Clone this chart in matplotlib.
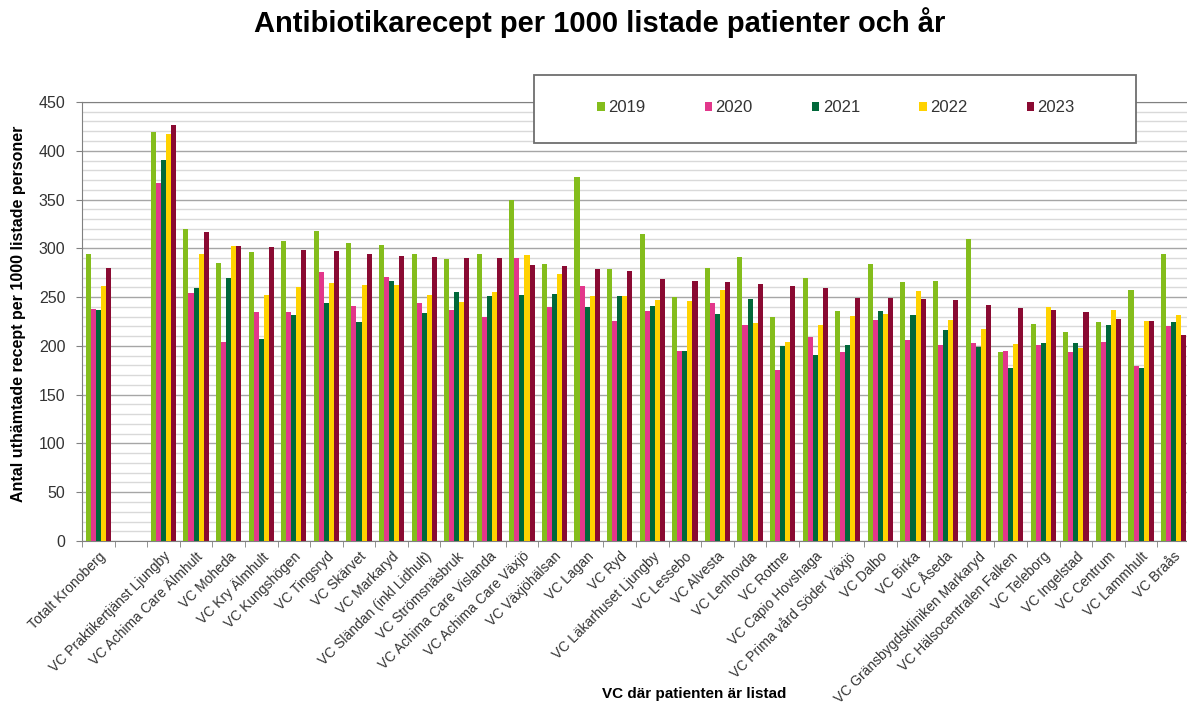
import matplotlib.pyplot as plt
import numpy as np
from matplotlib.patches import Rectangle

plt.rcParams['font.family'] = ['Liberation Sans', 'DejaVu Sans']

# Categories (empty string = gap after the county total)
units = ['Totalt Kronoberg', '',
         'VC Praktikertjänst Ljungby', 'VC Achima Care Älmhult', 'VC Moheda',
         'VC Kry Älmhult', 'VC Kungshögen', 'VC Tingsryd', 'VC Skärvet',
         'VC Markaryd', 'VC Sländan (inkl Lidhult)', 'VC Strömsnäsbruk',
         'VC Achima Care Vislanda', 'VC Achima Care Växjö', 'VC Växjöhälsan',
         'VC Lagan', 'VC Ryd', 'VC Läkarhuset Ljungby', 'VC Lessebo',
         'VC Alvesta', 'VC Lenhovda', 'VC Rottne', 'VC Capio Hovshaga',
         'VC Prima vård Söder Växjö', 'VC Dalbo', 'VC Birka', 'VC Åseda',
         'VC Gränsbygdskliniken Markaryd', 'VC Hälsocentralen Falken',
         'VC Teleborg', 'VC Ingelstad', 'VC Centrum', 'VC Lammhult', 'VC Braås']

years = ['2019', '2020', '2021', '2022', '2023']

v2019 = [294, np.nan, 419, 320, 285, 296, 307, 318, 305, 303, 294, 289, 294, 350,
         284, 373, 279, 315, 250, 280, 291, 230, 270, 236, 284, 265, 267, 310,
         194, 222, 214, 224, 257, 294]
v2020 = [238, np.nan, 367, 254, 204, 235, 235, 276, 241, 271, 244, 237, 230, 290,
         240, 261, 226, 236, 195, 244, 221, 175, 209, 194, 227, 206, 201, 203,
         195, 201, 194, 204, 179, 220]
v2021 = [237, np.nan, 391, 259, 270, 207, 232, 244, 224, 266, 234, 255, 251, 252,
         253, 240, 251, 241, 195, 233, 248, 200, 191, 201, 236, 232, 216, 199,
         177, 203, 203, 221, 177, 224]
v2022 = [261, np.nan, 417, 294, 302, 252, 260, 264, 262, 262, 252, 245, 255, 293,
         274, 251, 251, 247, 246, 257, 223, 204, 221, 231, 233, 256, 227, 217,
         202, 240, 198, 237, 225, 232]
v2023 = [280, np.nan, 426, 317, 302, 301, 298, 297, 294, 292, 291, 290, 290, 283,
         282, 279, 277, 269, 267, 265, 263, 261, 259, 249, 249, 248, 247, 242,
         239, 237, 235, 228, 225, 211]

colors = ['#84BD1C', '#E2378B', '#00683A', '#FFD200', '#8A0A32']
series = [v2019, v2020, v2021, v2022, v2023]

fig = plt.figure(figsize=(11.87, 7.13), dpi=100)
ax = fig.add_axes([0.0691, 0.2412, 0.9334, 0.6158])

x = np.arange(len(units))
w = 0.155
for i, (vals, c, yr) in enumerate(zip(series, colors, years)):
    ax.bar(x + (i - 2) * w, vals, width=w, color=c, label=yr, zorder=3)

ax.set_xlim(-0.5, len(units) - 0.5)
ax.set_ylim(0, 450)
ax.set_yticks(np.arange(0, 451, 50))
ax.set_yticks(np.arange(0, 451, 10), minor=True)
ax.grid(axis='y', which='minor', color='#d9d9d9', lw=1.0, zorder=0)
ax.grid(axis='y', which='major', color='#a6a6a6', lw=1.0, zorder=1)
ax.tick_params(axis='y', which='major', labelsize=11.5, labelcolor='#333333',
               color='#808080', length=4, pad=8)
ax.tick_params(axis='y', which='minor', length=0)

ax.set_xticks(x)
ax.set_xticklabels(units, rotation=45, ha='right', rotation_mode='anchor',
                   fontsize=10, color='#333333')
ax.tick_params(axis='x', which='major', length=0, pad=6)
ax.set_xticks(np.arange(-0.5, len(units), 1), minor=True)
ax.tick_params(axis='x', which='minor', length=4, color='#808080')

for s in ['left', 'bottom', 'top']:
    ax.spines[s].set_color('#808080')
ax.spines['right'].set_visible(False)

fig.text(0.505, 0.968, 'Antibiotikarecept per 1000 listade patienter och år',
         ha='center', va='center', fontsize=21, fontweight='bold')
fig.text(0.016, 0.56, 'Antal uthämtade recept per 1000 listade personer',
         rotation=90, ha='center', va='center', fontsize=11.5, fontweight='bold')
fig.text(0.585, 0.026, 'VC där patienten är listad', ha='center', va='center',
         fontsize=11, fontweight='bold')

# legend box
box = Rectangle((534 / 1187, 1 - 143 / 713), (1136 - 534) / 1187, 68 / 713,
                transform=fig.transFigure, facecolor='white', edgecolor='#6e6e6e',
                lw=1.3, zorder=3)
fig.add_artist(box)
handles, labels = ax.get_legend_handles_labels()
leg = fig.legend(handles, labels, ncol=5, loc='center', frameon=False,
                 bbox_to_anchor=(836 / 1187, 1 - 108 / 713), fontsize=12,
                 handlelength=0.45, handleheight=0.45, handletextpad=0.2,
                 columnspacing=3.55)
leg.set_zorder(4)
for t in leg.get_texts():
    t.set_color('#333333')

fig.savefig('out.png', dpi=100)
